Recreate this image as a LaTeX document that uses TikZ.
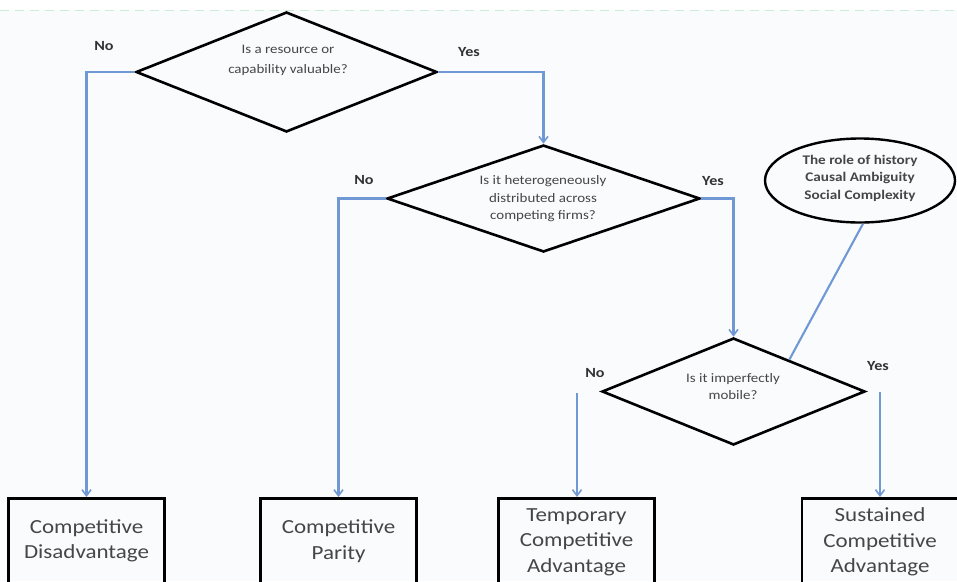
\documentclass[tikz,border=0pt]{standalone}
\usepackage{fontspec}
\setmainfont{Carlito}[FakeStretch=1.15]
\usetikzlibrary{shapes.geometric,arrows.meta,calc}
\definecolor{conn}{RGB}{112,152,212}
\definecolor{txt}{RGB}{70,70,70}
\definecolor{bg}{RGB}{250,251,253}
\definecolor{topline}{RGB}{205,235,215}
\tikzset{
  decision/.style={diamond,draw=black,line width=2.6pt,inner sep=0pt,line join=miter},
  qtext/.style={align=center,text=txt,font=\fontsize{13}{17.5}\selectfont,inner sep=0pt},
  etext/.style={align=center,text=txt,font=\fontsize{13.2}{17.5}\selectfont\bfseries,inner sep=0pt},
  outcome/.style={rectangle,draw=black,line width=2.6pt,minimum width=156pt,minimum height=103pt,inner sep=0pt},
  otext/.style={align=center,text=txt,font=\fontsize{20}{25.5}\selectfont,inner sep=0pt},
  yn/.style={font=\fontsize{14}{14}\selectfont\bfseries,text=black!80,inner sep=0pt},
  flow/.style={draw=conn,line width=2.1pt,-{Straight Barb[length=6pt,width=9pt,line width=1.6pt]}},
  plain/.style={draw=conn,line width=2.1pt},
  factors/.style={ellipse,draw=black,line width=2.4pt,minimum width=190pt,minimum height=84pt,inner sep=0pt}
}
\begin{document}
\begin{tikzpicture}[x=1pt,y=-1pt]
\useasboundingbox (0,0) rectangle (957,581);
\clip (0,0) rectangle (957,581);
\fill[bg] (0,10) rectangle (957,581);
\draw[topline,line width=1pt,dash pattern=on 9pt off 6pt] (0,10) -- (957,10);

% decisions
\node[decision,minimum width=301pt,minimum height=120pt] (d1) at (286.5,72) {};
\node[qtext,font=\fontsize{13}{20}\selectfont] (d1t) at (288,60) {Is a resource or\\capability valuable?};
\node[decision,minimum width=313pt,minimum height=107pt] (d2) at (543.5,198.5) {};
\node[qtext] (d2t) at (543,199) {Is it heterogeneously\\distributed across\\competing firms?};
\node[decision,minimum width=263pt,minimum height=107pt] (d3) at (733.5,391.5) {};
\node[qtext] (d3t) at (733,386.5) {Is it imperfectly\\mobile?};

% ellipse
\node[factors] (el) at (860,180.5) {};
\node[etext] (elt) at (860,178) {The role of history\\Causal Ambiguity\\Social Complexity};

% outcomes
\node[outcome,anchor=north] (b1) at (86.5,497) {};
\node[otext] (b1t) at (86.5,541) {Competitive\\Disadvantage};
\node[outcome,anchor=north] (b2) at (338.5,497) {};
\node[otext] (b2t) at (338.5,541) {Competitive\\Parity};
\node[outcome,anchor=north] (b3) at (576.5,497) {};
\node[otext] (b3t) at (576.5,542) {Temporary\\Competitive\\Advantage};
\node[outcome,anchor=north] (b4) at (880,497) {};
\node[otext] (b4t) at (880,542) {Sustained\\Competitive\\Advantage};

% yes / no labels
\node[yn] (n1) at (104,46) {No};
\node[yn] (y1) at (469,52) {Yes};
\node[yn] (n2) at (364,180) {No};
\node[yn] (y2) at (713,181) {Yes};
\node[yn] (n3) at (595,373) {No};
\node[yn] (y3) at (878,366) {Yes};

% connectors
\coordinate (s3) at (577,393);
\coordinate (t3) at (880,392);
\draw[flow] (d1.west) -| (b1.north);
\draw[flow] (d1.east) -| (d2.north);
\draw[flow] (d2.west) -| (b2.north);
\draw[flow] (d2.east) -| (d3.north);
\draw[flow] (s3) -- (s3 |- b3.north);
\draw[flow] (t3) -- (t3 |- b4.north);
\draw[plain] ([xshift=3pt]el.south) -- ($(d3.north)!0.42!(d3.east)$);
\end{tikzpicture}
\end{document}
